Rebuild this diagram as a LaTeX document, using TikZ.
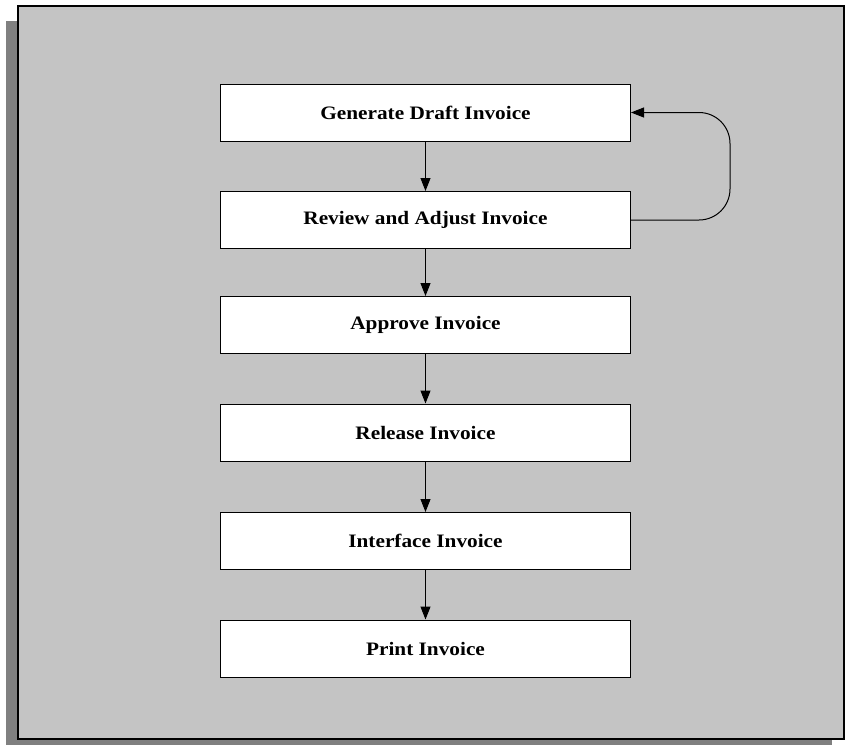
\documentclass[tikz,border=0pt]{standalone}
\usepackage{fontspec}
\setmainfont{Liberation Serif}[FakeStretch=1.12]
\usetikzlibrary{arrows.meta}
\definecolor{panelgray}{HTML}{C4C4C4}
\definecolor{shadowgray}{HTML}{808080}
\tikzset{
  stepbox/.style={draw=black, line width=1pt, fill=white, minimum width=410pt, minimum height=57pt, inner sep=0pt, font=\fontsize{19}{22}\selectfont\bfseries},
  flow/.style={draw=black, line width=1pt, -{Triangle[length=13pt,width=10pt]}},
}
\begin{document}
\begin{tikzpicture}[x=1pt,y=-1pt]
\useasboundingbox (0,0) rectangle (847,745);
\begin{scope}
\clip (0,0) rectangle (847,745);
\fill[shadowgray] (6,21) rectangle (832,760);
\end{scope}
\filldraw[fill=panelgray, draw=black, line width=2.5pt] (18,6) rectangle (844,739);
\node[stepbox] (b1) at (425.5,112.5) {Generate Draft Invoice};
\node[stepbox] (b2) at (425.5,220) {Review and Adjust Invoice};
\node[stepbox] (b3) at (425.5,325) {Approve Invoice};
\node[stepbox] (b4) at (425.5,432.5) {Release Invoice};
\node[stepbox] (b5) at (425.5,541) {Interface Invoice};
\node[stepbox] (b6) at (425.5,648.5) {Print Invoice};
\draw[flow] (b1) -- (b2);
\draw[flow] (b2) -- (b3);
\draw[flow] (b3) -- (b4);
\draw[flow] (b4) -- (b5);
\draw[flow] (b5) -- (b6);
\coordinate (r2) at (730,220);
\coordinate (r1) at (730,112.5);
\draw[flow, rounded corners=31pt] (b2.east) -- (r2) -- (r1) -- (b1.east);
\end{tikzpicture}
\end{document}
